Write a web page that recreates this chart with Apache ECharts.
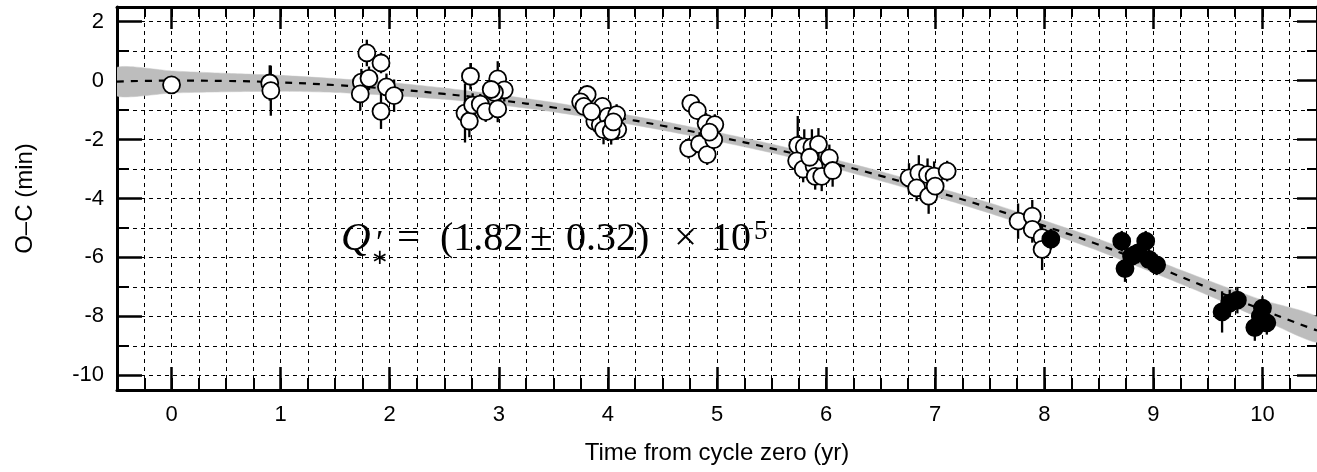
<!DOCTYPE html>
<html>
<head>
<meta charset="utf-8">
<script src="https://cdn.jsdelivr.net/npm/echarts@6/dist/echarts.min.js"></script>
<style>
html,body{margin:0;padding:0;background:#fff;}
#chart{width:1317px;height:472px;}
</style>
</head>
<body>
<div id="chart"></div>
<script>
// ---- data ----
const xTickLabels = [0,1,2,3,4,5,6,7,8,9,10];
const yTickLabels = [-10,-8,-6,-4,-2,0,2];
const yMinorTicks = [-9,-7,-5,-3,-1,1];

// model curve samples (years, dashed best fit, band upper/lower)
const years     = [-0.5,0,0.5,1,1.5,2,2.5,3,3.5,4,4.5,5,5.5,6,6.5,7,7.5,8,8.5,9,9.5,10,10.5];
const fitLine   = [-0.03,0.00,-0.01,-0.06,-0.15,-0.28,-0.45,-0.66,-0.91,-1.20,-1.53,-1.90,-2.30,-2.75,-3.23,-3.76,-4.32,-4.93,-5.57,-6.28,-7.03,-7.78,-8.48];
const bandUpper = [0.45,0.33,0.25,0.18,0.07,-0.06,-0.25,-0.48,-0.74,-1.05,-1.38,-1.75,-2.15,-2.60,-3.08,-3.60,-4.15,-4.75,-5.38,-6.07,-6.78,-7.45,-8.02];
const bandLower = [-0.52,-0.42,-0.38,-0.36,-0.40,-0.50,-0.63,-0.82,-1.06,-1.35,-1.68,-2.05,-2.45,-2.90,-3.40,-3.93,-4.50,-5.12,-5.78,-6.52,-7.28,-8.10,-8.88];

// observed transits: [time (yr), O-C (min), error (min)]
const openPoints = [
  [0.00,-0.14,0.08],
  [0.90,-0.08,0.60],[0.91,-0.34,0.85],
  [1.79,0.94,0.45],[1.92,0.60,0.35],[1.74,-0.05,0.45],[1.73,-0.45,0.55],[1.81,0.08,0.40],[1.97,-0.21,0.45],[2.04,-0.51,0.55],[1.92,-1.04,0.60],
  [2.74,0.15,0.45],[2.69,-1.10,1.00],[2.73,-1.37,0.55],[2.76,-0.83,0.40],[2.83,-0.80,0.35],[2.88,-1.05,0.35],[2.99,0.06,0.60],[3.05,-0.31,0.40],[2.96,-0.40,0.40],[2.93,-0.30,0.35],[2.99,-0.96,0.45],
  [3.81,-0.47,0.30],[3.75,-0.72,0.30],[3.78,-0.87,0.30],[3.95,-0.87,0.30],[3.88,-1.38,0.35],[3.93,-1.50,0.40],[4.00,-1.21,0.40],[4.08,-1.15,0.35],[4.09,-1.66,0.35],[4.00,-1.60,0.45],[3.96,-1.66,0.50],[4.03,-1.72,0.45],[3.85,-1.05,0.30],[4.05,-1.40,0.40],
  [4.76,-0.77,0.30],[4.82,-1.02,0.30],[4.90,-1.45,0.35],[4.98,-1.49,0.35],[4.74,-2.30,0.35],[4.84,-2.15,0.40],[4.91,-2.51,0.35],[4.97,-2.00,0.35],[4.93,-1.75,0.30],
  [5.74,-2.20,1.00],[5.80,-2.25,0.60],[5.87,-2.25,0.60],[5.93,-2.16,0.55],[5.73,-2.72,0.40],[5.79,-3.00,0.45],[5.89,-2.90,0.45],[5.90,-3.25,0.45],[5.96,-3.25,0.50],[6.03,-2.62,0.45],[6.06,-3.05,0.55],[5.85,-2.60,0.40],
  [6.76,-3.30,0.50],[6.85,-3.13,0.60],[6.93,-3.19,0.55],[6.99,-3.24,0.50],[7.11,-3.07,0.35],[6.83,-3.64,0.45],[6.94,-3.92,0.60],[7.00,-3.58,0.45],
  [7.76,-4.77,0.60],[7.89,-4.60,0.55],[7.89,-5.05,0.45],[7.98,-5.33,0.45],[7.98,-5.73,0.70]
];
const filledPoints = [
  [8.06,-5.38,0.35],
  [8.71,-5.45,0.35],[8.93,-5.45,0.35],[8.80,-5.96,0.35],[8.74,-6.38,0.45],[8.96,-6.07,0.35],[9.03,-6.25,0.35],[8.86,-5.85,0.35],
  [9.63,-7.85,0.70],[9.70,-7.55,0.45],[9.77,-7.45,0.45],
  [10.00,-7.72,0.40],[9.93,-8.38,0.45],[10.04,-8.22,0.40],[9.98,-8.00,0.40]
];

// ---- chart ----
const chart = echarts.init(document.getElementById('chart'), null, {renderer:'canvas'});
const FONT = 'Liberation Sans, Arial, Helvetica, sans-serif';
const SERIF = 'Liberation Serif, Times New Roman, serif';
const black = '#000';
const dashGrid = {show:true, lineStyle:{color:'#000', width:1, type:[4,4]}};

const fitData = years.map((t,i)=>[t, fitLine[i]]);
const errData = openPoints.concat(filledPoints);

function baseX(extra){
  return Object.assign({type:'value', min:-0.5, max:10.5, interval:0.25,
    axisLine:{show:false, onZero:false}, axisTick:{show:false}, axisLabel:{show:false}, splitLine:{show:false}}, extra);
}
function baseY(extra){
  return Object.assign({type:'value', min:-10.5, max:2.5,
    axisLine:{show:false, onZero:false}, axisTick:{show:false}, axisLabel:{show:false}, splitLine:{show:false}}, extra);
}
const line3 = {show:true, onZero:false, lineStyle:{color:black, width:3}};

// one piece of the annotation, aligned on a common baseline
function mathPiece(left, text, size, italic){
  return {type:'text', left:left, top:219, z:100,
    style:{text:'{t|'+text+'}', rich:{t:{fontFamily:SERIF, fontStyle:italic?'italic':'normal', fontSize:size, fill:black, lineHeight:46, verticalAlign:'bottom'}}}};
}

const option = {
  animation:false,
  backgroundColor:'#fff',
  grid:{left:117, top:7, width:1200, height:383},
  xAxis:[
    baseX({position:'bottom', axisLine:line3,
      axisTick:{show:true, inside:true, length:12, lineStyle:{color:black, width:2}},
      axisLabel:{show:true, customValues:xTickLabels, color:black, fontSize:22, fontFamily:FONT, margin:14},
      name:'Time from cycle zero (yr)', nameLocation:'middle', nameGap:51,
      nameTextStyle:{color:black, fontSize:24, fontFamily:FONT}}),
    baseX({position:'bottom', axisTick:{show:true, inside:true, length:23, customValues:xTickLabels, lineStyle:{color:black, width:2.5}}}),
    baseX({position:'top', axisLine:line3, splitLine:dashGrid,
      axisTick:{show:true, inside:true, length:10, lineStyle:{color:black, width:2}}}),
    baseX({position:'top', axisTick:{show:true, inside:true, length:22, customValues:xTickLabels, lineStyle:{color:black, width:2.5}}})
  ],
  yAxis:[
    baseY({position:'left', axisLine:line3,
      axisTick:{show:true, inside:true, length:25, customValues:yTickLabels, lineStyle:{color:black, width:2.5}},
      axisLabel:{show:true, customValues:yTickLabels, color:black, fontSize:22, fontFamily:FONT, margin:13},
      splitLine:dashGrid,
      name:'O–C (min)', nameLocation:'middle', nameGap:80, nameRotate:90,
      nameTextStyle:{color:black, fontSize:24, fontFamily:FONT}}),
    baseY({position:'left', splitLine:dashGrid,
      axisTick:{show:true, inside:true, length:12, customValues:yMinorTicks, lineStyle:{color:black, width:2}}}),
    baseY({position:'right', axisLine:line3,
      axisTick:{show:true, inside:true, length:20, customValues:yTickLabels, lineStyle:{color:black, width:2.5}}}),
    baseY({position:'right',
      axisTick:{show:true, inside:true, length:10, customValues:yMinorTicks, lineStyle:{color:black, width:2}}})
  ],
  series:[
    { // model band
      type:'custom', xAxisIndex:0, yAxisIndex:0, clip:true, z:2, silent:true,
      data:[[0,0]],
      renderItem:function(params, api){
        const pts = [];
        for (let i=0;i<years.length;i++) pts.push(api.coord([years[i], bandUpper[i]]));
        for (let i=years.length-1;i>=0;i--) pts.push(api.coord([years[i], bandLower[i]]));
        return {type:'polygon', shape:{points:pts, smooth:0.2}, style:{fill:'#bdbdbd', stroke:'#c8c8c8', lineWidth:0.5}};
      }
    },
    { // best-fit dashed line
      type:'line', xAxisIndex:0, yAxisIndex:0, data:fitData, showSymbol:false, smooth:true, z:3, silent:true,
      lineStyle:{color:black, width:2.2, type:[7,7]}
    },
    { // error bars
      type:'custom', xAxisIndex:0, yAxisIndex:0, clip:true, z:4, silent:true,
      data:errData,
      renderItem:function(params, api){
        const t = api.value(0), v = api.value(1), e = api.value(2);
        const p1 = api.coord([t, v+e]), p2 = api.coord([t, v-e]);
        return {type:'line', shape:{x1:p1[0], y1:p1[1], x2:p2[0], y2:p2[1]}, style:{stroke:black, lineWidth:2.3}};
      }
    },
    {
      type:'scatter', xAxisIndex:0, yAxisIndex:0, data:openPoints, symbol:'circle', symbolSize:17, z:5,
      itemStyle:{color:'#fff', borderColor:black, borderWidth:1.8, opacity:1}
    },
    {
      type:'scatter', xAxisIndex:0, yAxisIndex:0, data:filledPoints, symbol:'circle', symbolSize:17, z:6,
      itemStyle:{color:black, borderColor:black, borderWidth:1.8, opacity:1}
    }
  ],
  graphic:[
    mathPiece(341, 'Q', 41, true),
    {type:'text', left:376, top:227, z:100, style:{text:'′', fontFamily:SERIF, fontSize:34, fill:black}},
    {type:'text', left:371, top:248, z:100, style:{text:'∗', fontFamily:SERIF, fontSize:21, fill:black}},
    mathPiece(397, '=', 41, false),
    mathPiece(440, '(1.82', 40, false),
    mathPiece(530, '±', 41, false),
    mathPiece(566, '0.32)', 40, false),
    mathPiece(674, '×', 41, false),
    mathPiece(711, '10', 40, false),
    {type:'text', left:754, top:218, z:100, style:{text:'5', fontFamily:SERIF, fontSize:27, fill:black}}
  ]
};
chart.setOption(option);
</script>
</body>
</html>
